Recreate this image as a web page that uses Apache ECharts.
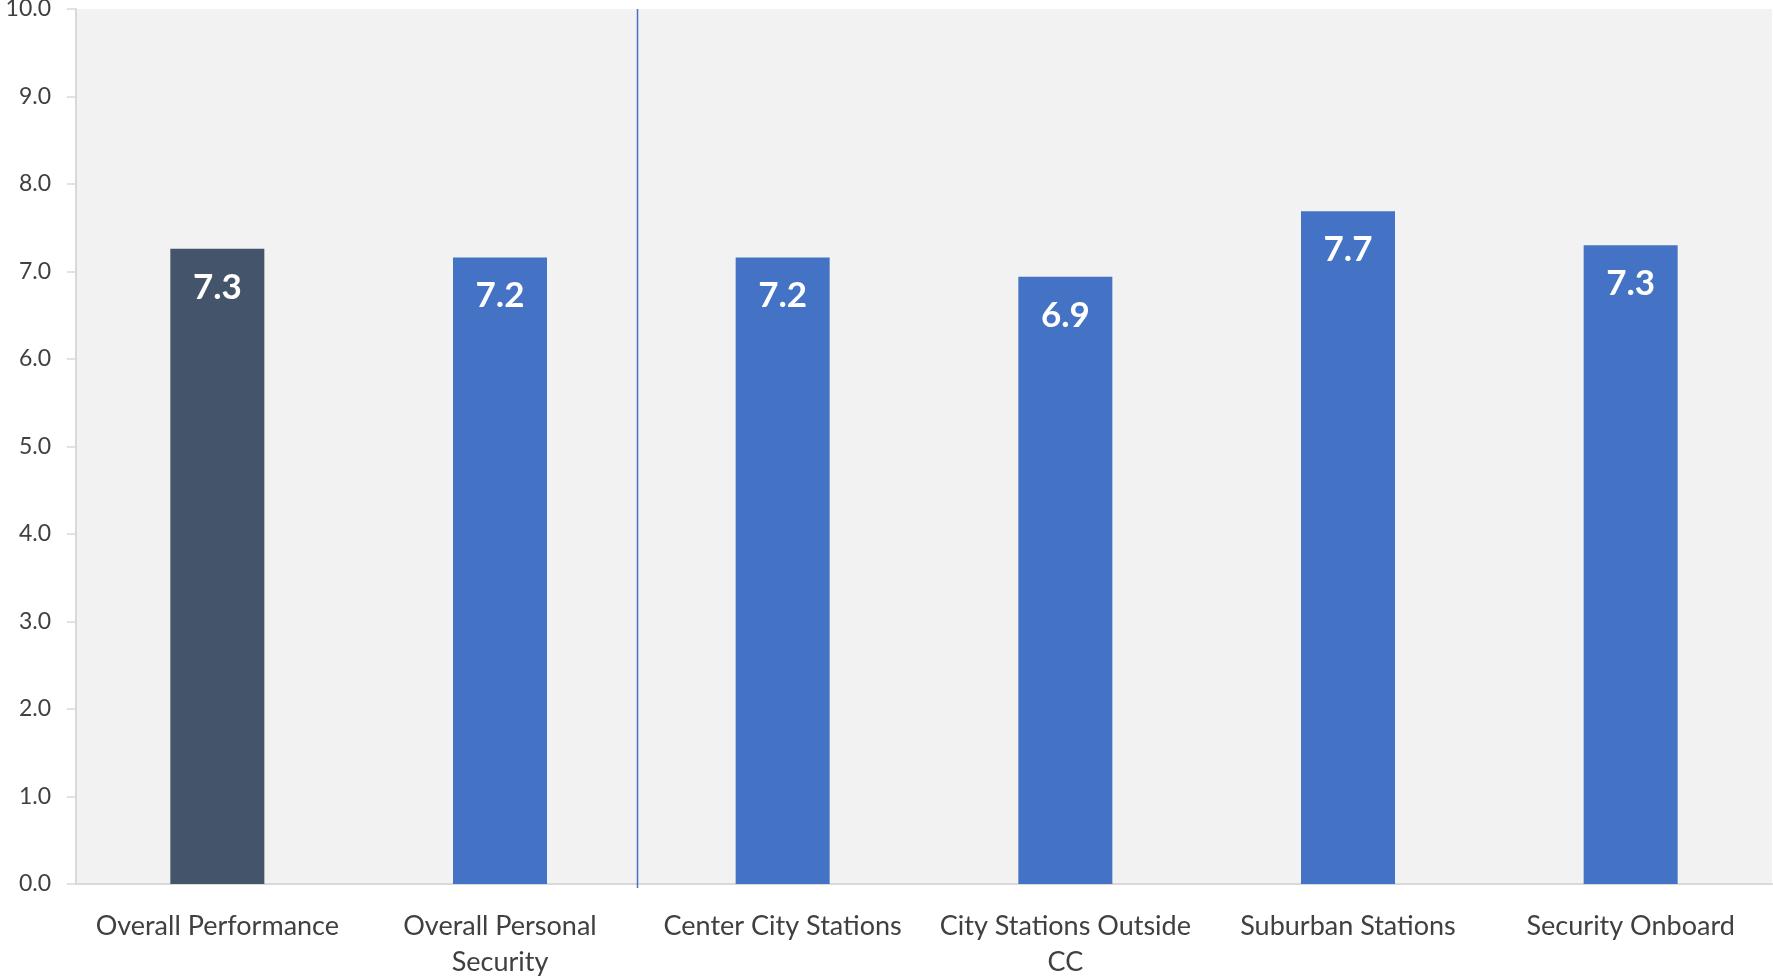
<!DOCTYPE html>
<html>
<head>
<meta charset="utf-8">
<title>Performance Scores</title>
<script src="https://cdn.jsdelivr.net/npm/echarts@6/dist/echarts.min.js"></script>
<style>
  html, body { margin: 0; padding: 0; background: #ffffff; }
  #chart { width: 1773px; height: 976px; }
</style>
</head>
<body>
<div id="chart"></div>
<script>
// Category labels (line breaks as printed under each bar)
const categories = [
  'Overall Performance',
  'Overall Personal\nSecurity',
  'Center City Stations',
  'City Stations Outside\nCC',
  'Suburban Stations',
  'Security Onboard'
];

// Mean score per category (0–10 scale)
const scores = [7.26, 7.16, 7.16, 6.94, 7.69, 7.30];

// Y-axis range and step
const yMin = 0;
const yMax = 10;
const yStep = 1;

// The divider separates the overall scores from the breakdown:
// it sits between these two neighbouring categories.
const dividerBetween = [1, 2];

const OVERALL_COLOR = '#44546A';
const BAR_COLOR = '#4472C4';
const TEXT_COLOR = '#404040';
const AXIS_GREY = '#D9D9D9';
const FONT = 'Lato, "Open Sans", sans-serif';

const chart = echarts.init(document.getElementById('chart'), null, { renderer: 'canvas' });

chart.setOption({
  animation: false,
  backgroundColor: '#ffffff',
  grid: {
    left: 76,
    right: 1,
    top: 9,
    bottom: 92,
    outerBoundsMode: 'none',
    containLabel: false,
    show: true,
    backgroundColor: '#F2F2F2',
    borderWidth: 0
  },
  xAxis: {
    type: 'category',
    data: categories,
    boundaryGap: true,
    axisLine: { show: true, lineStyle: { color: AXIS_GREY, width: 2 } },
    axisTick: { show: false },
    splitLine: { show: false },
    axisLabel: {
      interval: 0,
      color: TEXT_COLOR,
      fontFamily: FONT,
      fontSize: 27,
      lineHeight: 36,
      margin: 24
    }
  },
  yAxis: {
    type: 'value',
    min: yMin,
    max: yMax,
    interval: yStep,
    axisLine: { show: true, lineStyle: { color: AXIS_GREY, width: 2 } },
    axisTick: { show: true, length: 9, lineStyle: { color: AXIS_GREY, width: 1.5 } },
    splitLine: { show: false },
    axisLabel: {
      color: TEXT_COLOR,
      fontFamily: FONT,
      fontSize: 23,
      margin: 25,
      formatter: (v) => v.toFixed(1)
    }
  },
  series: [{
    type: 'bar',
    data: scores,
    barWidth: 94,
    itemStyle: {
      color: (p) => (p.dataIndex === 0 ? OVERALL_COLOR : BAR_COLOR)
    },
    label: {
      show: true,
      position: 'insideTop',
      distance: 21,
      color: '#ffffff',
      fontFamily: FONT,
      fontWeight: 'bold',
      fontSize: 35,
      formatter: (p) => p.value.toFixed(1)
    }
  }]
});

// Vertical divider just left of the band boundary between two categories,
// spanning the plot height and dipping a few pixels below the baseline.
function drawDivider() {
  const a = chart.convertToPixel({ xAxisIndex: 0 }, categories[dividerBetween[0]]);
  const b = chart.convertToPixel({ xAxisIndex: 0 }, categories[dividerBetween[1]]);
  const top = chart.convertToPixel({ yAxisIndex: 0 }, yMax);
  const bottom = chart.convertToPixel({ yAxisIndex: 0 }, yMin);
  const x = Math.round((a + b) / 2) - 3.5;
  chart.setOption({
    graphic: [{
      type: 'line',
      id: 'divider',
      z: 10,
      silent: true,
      shape: { x1: x, y1: top, x2: x, y2: bottom + 4 },
      style: { stroke: BAR_COLOR, lineWidth: 1.5 }
    }]
  });
}
drawDivider();
</script>
</body>
</html>
